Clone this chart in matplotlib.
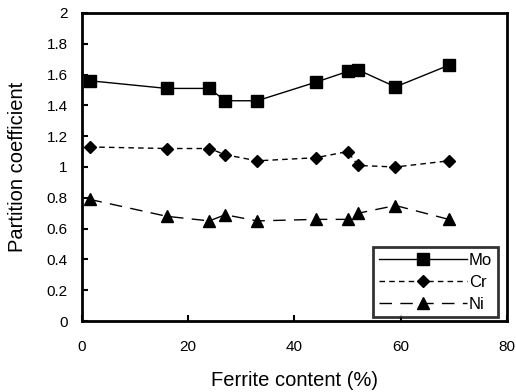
import matplotlib
matplotlib.use("Agg")
import matplotlib.pyplot as plt

plt.rcParams['font.family'] = ['Liberation Sans', 'DejaVu Sans']

ferrite_mo = [1.5, 16, 24, 27, 33, 44, 50, 52, 59, 69]
mo = [1.56, 1.51, 1.51, 1.43, 1.43, 1.55, 1.62, 1.63, 1.52, 1.66]
ferrite_cr = [1.5, 16, 24, 27, 33, 44, 50, 52, 59, 69]
cr = [1.13, 1.12, 1.12, 1.08, 1.04, 1.06, 1.10, 1.01, 1.00, 1.04]
ferrite_ni = [1.5, 16, 24, 27, 33, 44, 50, 52, 59, 69]
ni = [0.79, 0.68, 0.65, 0.69, 0.65, 0.66, 0.66, 0.70, 0.75, 0.66]

xticks = [0, 20, 40, 60, 80]
yticks = [0, 0.2, 0.4, 0.6, 0.8, 1, 1.2, 1.4, 1.6, 1.8, 2]
ytick_labels = ['0', '0.2', '0.4', '0.6', '0.8', '1', '1.2', '1.4', '1.6', '1.8', '2']

fig = plt.figure(figsize=(5.16, 3.92), dpi=100)
ax = fig.add_axes([0.158, 0.181, 0.825, 0.786])

ax.plot(ferrite_mo, mo, color='black', lw=1.0, marker='s', markersize=9, label='Mo')
ax.plot(ferrite_cr, cr, color='black', lw=1.0, linestyle=(0, (4, 3)), marker='D', markersize=6.5, label='Cr')
ax.plot(ferrite_ni, ni, color='black', lw=1.0, linestyle=(0, (9, 6)), marker='^', markersize=8, label='Ni')

ax.set_xlim(0, 80)
ax.set_ylim(0, 2)
ax.set_xticks(xticks)
ax.set_yticks(yticks)
ax.set_yticklabels(ytick_labels)
ax.tick_params(direction='in', length=4, width=1.5, labelsize=11)
ax.tick_params(axis='x', pad=14)
ax.tick_params(axis='y', pad=10)
for s in ax.spines.values():
    s.set_linewidth(2)

ax.set_xlabel('Ferrite content (%)', fontsize=14.5, labelpad=12)
ax.set_ylabel('Partition coefficient', fontsize=14.5, labelpad=14)

leg = ax.legend(loc='lower right', bbox_to_anchor=(0.978, 0.012), fontsize=12, frameon=True, fancybox=False,
                edgecolor='black', handlelength=5.3, handletextpad=0.1,
                borderaxespad=0.0, labelspacing=0.4, borderpad=0.35)
leg.get_frame().set_linewidth(2)

fig.savefig('out.png', dpi=100)
